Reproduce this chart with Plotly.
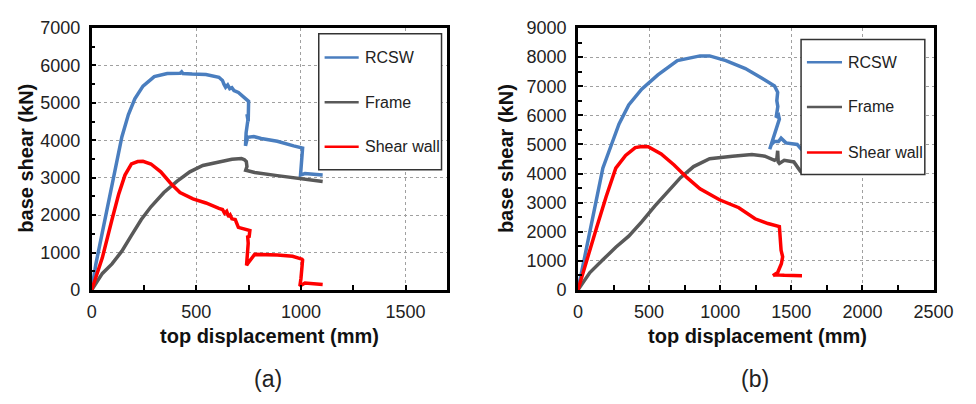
import plotly.graph_objects as go

# ---------------- data ----------------
series_names = ["RCSW", "Frame", "Shear wall"]
series_colors = ["#4a7ebf", "#595959", "#ff0000"]

# panel (a)
rcsw_a_x = [0, 20, 51, 82, 113, 144, 175, 206, 245, 299, 361, 423, 430, 436, 480, 546, 608, 625, 632,
            640, 650, 660, 670, 680, 701, 732, 750, 748, 742, 748, 738, 735, 745, 775, 810, 887, 965,
            1005, 1008, 998, 1019, 1060, 1104]
rcsw_a_y = [0, 695, 1545, 2392, 3240, 4090, 4683, 5108, 5447, 5701, 5786, 5790, 5830, 5785, 5770, 5760,
            5684, 5600, 5500, 5420, 5480, 5380, 5404, 5330, 5277, 5108, 5040, 4500, 4700, 4600, 4200,
            3850, 4080, 4100, 4050, 3975, 3850, 3800, 3790, 3070, 3110, 3090, 3072]

frame_a_x = [0, 51, 97, 144, 190, 237, 283, 345, 407, 469, 531, 608, 670, 716, 730, 739, 742, 736,
             779, 887, 995, 1104]
frame_a_y = [0, 441, 695, 1036, 1459, 1883, 2222, 2604, 2901, 3156, 3326, 3428, 3495, 3512, 3480,
             3430, 3300, 3200, 3140, 3055, 2986, 2901]

sw_a_x = [0, 51, 97, 129, 159, 190, 220, 245, 283, 330, 376, 422, 484, 546, 608, 625, 635, 645, 655,
          662, 670, 686, 701, 725, 740, 756, 752, 745, 748, 740, 745, 779, 887, 960, 1005, 1008, 1000,
          995, 1019, 1060, 1104]
sw_a_y = [0, 865, 1883, 2562, 3070, 3367, 3430, 3436, 3367, 3156, 2858, 2604, 2435, 2324, 2180, 2150,
          2050, 2100, 1950, 2000, 1900, 1880, 1672, 1630, 1620, 1590, 1400, 1450, 1250, 654, 700, 950,
          932, 900, 823, 800, 300, 102, 187, 170, 144]

# panel (b)
rcsw_b_x = [0, 38, 84, 130, 175, 232, 289, 357, 448, 562, 699, 858, 926, 1040, 1177, 1291, 1382, 1404,
            1398, 1405, 1393, 1410, 1416, 1348, 1360, 1382, 1410, 1428, 1462, 1541, 1570, 1600]
rcsw_b_y = [0, 923, 2011, 3098, 4183, 4946, 5706, 6358, 6902, 7392, 7881, 8044, 8044, 7881, 7608, 7281,
            7010, 6793, 6500, 6300, 5924, 6000, 5870, 4836, 5000, 5108, 5100, 5217, 5054, 4999, 4836, 4800]

frame_b_x = [0, 84, 175, 266, 357, 448, 540, 630, 721, 813, 926, 1086, 1223, 1314, 1382, 1398, 1404,
             1408, 1416, 1450, 1518, 1564, 1600]
frame_b_y = [0, 597, 1033, 1467, 1848, 2337, 2879, 3368, 3857, 4239, 4510, 4598, 4652, 4598, 4456,
             4500, 4783, 4400, 4347, 4456, 4400, 4076, 4000]

sw_b_x = [0, 61, 130, 198, 266, 335, 403, 450, 494, 585, 676, 767, 858, 995, 1131, 1245, 1336, 1416,
          1425, 1428, 1439, 1430, 1404, 1370, 1380, 1450, 1575]
sw_b_y = [0, 1033, 2119, 3205, 4183, 4620, 4891, 4930, 4924, 4673, 4294, 3857, 3478, 3098, 2826, 2445,
          2282, 2174, 1700, 1360, 1141, 900, 597, 489, 520, 500, 489]

x_title = "top displacement (mm)"
y_title = "base shear (kN)"
panel_labels = ["(a)", "(b)"]

# ---------------- figure ----------------
W, H = 976, 404
FONT = "Liberation Sans, Arial, Helvetica, sans-serif"

def px(x):
    return x / W

def py(y):
    return 1 - y / H

fig = go.Figure()

panels = [
    ("x", "y", [(rcsw_a_x, rcsw_a_y), (frame_a_x, frame_a_y), (sw_a_x, sw_a_y)]),
    ("x2", "y2", [(rcsw_b_x, rcsw_b_y), (frame_b_x, frame_b_y), (sw_b_x, sw_b_y)]),
]
for xa, ya, curves in panels:
    for (xs, ys), name, col in zip(curves, series_names, series_colors):
        fig.add_trace(go.Scatter(x=xs, y=ys, mode="lines", name=name, xaxis=xa, yaxis=ya,
                                 line=dict(color=col, width=3.5), showlegend=False,
                                 hoverinfo="skip"))

axis_common = dict(
    showline=True, linecolor="black", linewidth=2.5, mirror=True,
    ticks="inside", ticklen=5, tickwidth=1.5, tickcolor="black",
    showgrid=True, gridcolor="#a0a0a0", griddash="dot", gridwidth=1,
    zeroline=False, tickfont=dict(size=18, color="#222", family=FONT),
)

ydom = [py(294.5), py(19)]
fig.update_layout(
    width=W, height=H, margin=dict(l=0, r=0, t=0, b=0),
    paper_bgcolor="white", plot_bgcolor="white",
    font=dict(family=FONT, color="#222"),
    xaxis=dict(domain=[px(89), px(454)], range=[0, 1700], dtick=500, anchor="y",
               minor=dict(ticks="inside", dtick=250, ticklen=5, tickwidth=1.5, tickcolor="black", showgrid=False),
               ticklabelstandoff=4, **axis_common),
    yaxis=dict(domain=ydom, range=[0, 7000], dtick=1000, anchor="x",
               minor=dict(ticks="inside", dtick=500, ticklen=4, tickwidth=1.5, tickcolor="black", showgrid=False),
               ticklabelstandoff=5, **axis_common),
    xaxis2=dict(domain=[px(588), px(953)], range=[0, 2500], dtick=500, anchor="y2",
                minor=dict(ticks="inside", dtick=250, ticklen=5, tickwidth=1.5, tickcolor="black", showgrid=False),
                ticklabelstandoff=4, **axis_common),
    yaxis2=dict(domain=ydom, range=[0, 9000], dtick=1000, anchor="x2",
                minor=dict(ticks="inside", dtick=500, ticklen=4, tickwidth=1.5, tickcolor="black", showgrid=False),
                ticklabelstandoff=5, **axis_common),
)

annotations = []
shapes = []

# axis titles and panel labels
for cx_title, cy_title_x in [(271, 22), (772, 514)]:
    annotations.append(dict(text=f"<b>{x_title}</b>", x=px(cx_title), y=py(343), xref="paper", yref="paper",
                            showarrow=False, xanchor="center", yanchor="middle",
                            font=dict(size=20, color="#111", family=FONT)))
    annotations.append(dict(text=f"<b>{y_title}</b>", x=px(cy_title_x), y=py(156), xref="paper", yref="paper",
                            showarrow=False, xanchor="center", yanchor="middle", textangle=-90,
                            font=dict(size=20, color="#111", family=FONT)))
for lab, lx in zip(panel_labels, [270, 770]):
    annotations.append(dict(text=lab, x=px(lx), y=py(388), xref="paper", yref="paper",
                            showarrow=False, xanchor="center", yanchor="middle",
                            font=dict(size=23, color="#222", family=FONT)))

# legends (one per panel)
legend_boxes = [
    dict(x0=322, x1=448, y0=25, y1=168, rows=[50, 97, 144], l0=328, l1=363, tx=367),
    dict(x0=817, x1=944, y0=31, y1=173, rows=[55, 102, 150], l0=823, l1=859, tx=863),
]
for lb in legend_boxes:
    shapes.append(dict(type="rect", xref="paper", yref="paper",
                       x0=px(lb["x0"]), x1=px(lb["x1"]), y0=py(lb["y1"]), y1=py(lb["y0"]),
                       fillcolor="white", line=dict(color="#333", width=1.5), layer="above"))
    for row, name, col in zip(lb["rows"], series_names, series_colors):
        shapes.append(dict(type="line", xref="paper", yref="paper",
                           x0=px(lb["l0"]), x1=px(lb["l1"]), y0=py(row), y1=py(row),
                           line=dict(color=col, width=2.5), layer="above"))
        annotations.append(dict(text=name, x=px(lb["tx"]), y=py(row), xref="paper", yref="paper",
                                showarrow=False, xanchor="left", yanchor="middle",
                                font=dict(size=16, color="#222", family=FONT)))

fig.update_layout(annotations=annotations, shapes=shapes)

fig.write_html("out.html",
               post_script="document.body.style.margin='0';document.body.style.padding='0';")
